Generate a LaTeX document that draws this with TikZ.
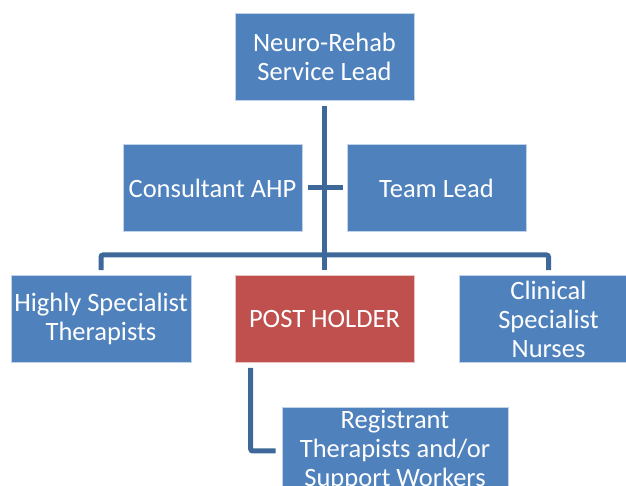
\documentclass[tikz,border=0pt]{standalone}
\usepackage{fontspec}
\setmainfont{Carlito}
\usepackage{tikz}
\usetikzlibrary{positioning}
\definecolor{boxblue}{HTML}{4F81BD}
\definecolor{boxred}{HTML}{C0504D}
\definecolor{linkblue}{HTML}{3D6899}
\def\boxwd{179pt}
\def\boxht{87pt}

\begin{document}
\begin{tikzpicture}[x=1pt,y=1pt]
    \tikzstyle{role}=[rectangle,fill=boxblue,draw=white!65!boxblue,line width=0.6pt,
        text=white,align=center,minimum width=\boxwd,minimum height=\boxht,
        inner sep=1pt,font=\fontsize{26.5}{29}\selectfont]
    \tikzstyle{post role}=[role,fill=boxred,draw=white!65!boxred]
    \tikzstyle{link}=[draw=linkblue,line width=5pt,rounded corners=2pt]

    \useasboundingbox (0,0) rectangle (626,486);
    \clip (0,0) rectangle (626,486);

    % Top of the tree
    \node[role] (lead) at (324.5,429.5) {Neuro-Rehab\\Service Lead};

    % Side roles
    \node[role] (cons) at (212.5,298) {Consultant AHP};
    \node[role] (team) at (436.5,298) {Team Lead};

    % Third row
    \node[role,minimum width=180pt] (hst) at (101,167) {Highly Specialist\\Therapists};
    \node[post role] (post) at (324.5,167) {POST HOLDER};
    \node[role] (csn) at (548.5,167) {Clinical\\Specialist\\Nurses};

    % Below the post holder
    \node[role,minimum width=226pt,minimum height=88pt] (reg) at (395,35)
        {Registrant\\Therapists and/or\\Support Workers};

    \coordinate (bar) at (324.5,231);

    % Connectors
    \draw[link] ([yshift=-6pt]lead.south) -- ([yshift=5pt]post.north);
    \draw[link,shorten <=6pt,shorten >=4pt] (cons.east) -- (team.west);
    \draw[link] ([yshift=5pt]hst.north) |- (bar) -| ([yshift=5pt]csn.north);
    \draw[link] ([xshift=16pt,yshift=-5pt]post.south west) |- ([xshift=-6pt]reg.west);
\end{tikzpicture}
\end{document}
